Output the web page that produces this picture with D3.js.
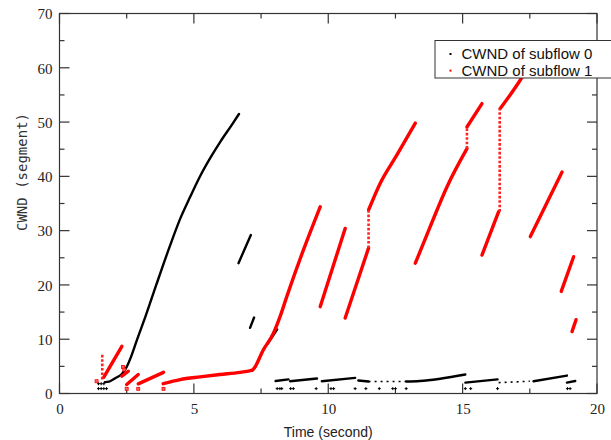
<!DOCTYPE html>
<html><head><meta charset="utf-8">
<script src="https://cdn.jsdelivr.net/npm/d3@7"></script>
<style>body{margin:0;background:#fff}svg{display:block}</style>
</head><body><svg id="c" width="611" height="440"></svg>
<script>
// ---------- data ----------
const xTicks = [0, 5, 10, 15, 20];
const yTicks = [0, 10, 20, 30, 40, 50, 60, 70];
const seriesNames = ["CWND of subflow 0", "CWND of subflow 1"];

// subflow 0 (black): continuous runs [time, cwnd]
const sub0Runs = [
  [[1.69,2.1],[1.85,2.2],[2.07,2.8],[2.32,3.6],[2.50,4.9],[2.65,6.6],[2.87,9.7],[3.2,14.2],[3.6,20.0],[4.11,27.2],[4.5,32.3],[4.86,36.2],[5.25,40.2],[5.60,43.3],[6.0,46.5],[6.4,49.4],[6.68,51.5]],
  [[6.66,24.0],[7.12,29.2]],
  [[7.09,12.1],[7.24,14.0]],
  [[7.17,4.2],[7.28,4.9]],
  [[7.75,9.2],[8.10,11.8]],
  [[8.04,2.3],[8.52,2.6]],
  [[8.58,2.26],[9.58,2.76]],
  [[9.76,2.26],[11.0,2.88]],
  [[11.12,2.4],[11.5,2.2]],
  [[12.9,2.2],[13.4,2.3],[15.1,3.5]],
  [[15.1,2.0],[16.3,2.6]],
  [[17.64,2.26],[18.88,3.3]],
  [[18.88,2.0],[19.19,2.3]]
];
// subflow 0: sparse runs
const sub0Sparse = [
  [[11.5,2.2],[12.9,2.2]],
  [[16.34,2.0],[17.5,2.26]]
];
// subflow 0: isolated samples
const sub0Dots = [
  [1.45,0.9],[1.55,0.9],[1.65,0.9],[1.75,0.9],[1.45,1.8],[1.55,1.8],[1.65,1.8],
  [8.1,0.9],[8.2,0.9],[8.27,0.9],[8.6,0.9],[8.7,0.9],[9.55,0.9],[10.1,0.9],[10.2,0.9],
  [11.0,0.9],[11.4,0.9],[11.9,0.9],[12.4,0.9],[12.5,0.9],[12.9,0.9],
  [15.1,0.9],[15.3,0.9],[16.3,0.9],[18.9,0.9],[19.0,0.9]
];

// subflow 1 (red): continuous runs
const sub1Runs = [
  [[1.65,3.0],[2.32,8.7]],
  [[2.32,3.2],[2.56,4.1]],
  [[2.5,1.65],[2.93,3.5]],
  [[2.93,1.78],[3.87,3.9]],
  [[3.86,1.8],[4.49,2.57],[5.23,3.07],[5.97,3.5],[6.72,3.9],[7.17,4.3],[7.59,8.1],[7.96,11.1],[8.21,14.2],[8.46,17.9],[9.08,26.5],[9.70,34.4]],
  [[9.70,16.0],[10.63,30.4]],
  [[10.63,13.9],[11.50,26.8]],
  [[11.50,33.8],[11.93,38.7],[12.55,43.9],[13.24,49.8]],
  [[13.24,24.0],[13.79,30.7],[14.42,38.1],[15.16,45.1]],
  [[15.16,49.1],[15.72,53.4]],
  [[15.72,25.5],[16.34,33.5]],
  [[16.40,52.5],[17.14,57.7],[17.6,61.5]],
  [[17.52,28.9],[18.70,40.8]],
  [[18.67,18.8],[19.13,25.2]],
  [[19.07,11.4],[19.22,13.6]]
];
// subflow 1: vertical jumps drawn as sparse samples
const sub1Jumps = [
  [[11.50,26.8],[11.50,33.8]],
  [[15.16,45.1],[15.16,49.1]],
  [[16.38,33.5],[16.38,52.5]],
  [[1.59,2.6],[1.59,7.4]]
];
// subflow 1: isolated samples
const sub1Dots = [
  [1.38,2.26],[2.36,4.9],[2.41,4.4],[2.5,0.86],[2.93,0.86],[3.87,0.86]
];

// ---------- drawing ----------
const svg = d3.select("#c");
const L = 59.5, R = 597, T = 13.5, B = 393.5;
const x = d3.scaleLinear().domain([0, 20]).range([L, R]);
const y = d3.scaleLinear().domain([0, 70]).range([B, T]);
const line = d3.line().x(d => x(d[0])).y(d => y(d[1])).curve(d3.curveMonotoneX);
const vline = d3.line().x(d => x(d[0])).y(d => y(d[1]));
const axisCol = "#333";

// frame
svg.append("rect").attr("x", L).attr("y", T).attr("width", R - L).attr("height", B - T)
  .attr("fill", "none").attr("stroke", axisCol).attr("stroke-width", 1.2);

// ticks (inward, mirrored)
const xMinor = d3.range(0, 20.01, 2.5);
const yMinor = d3.range(0, 70.01, 5);
const tk = svg.append("g").attr("stroke", axisCol).attr("stroke-width", 1.2);
xMinor.forEach(v => {
  const len = xTicks.includes(v) ? 10 : 5;
  tk.append("line").attr("x1", x(v)).attr("x2", x(v)).attr("y1", B).attr("y2", B - len);
  tk.append("line").attr("x1", x(v)).attr("x2", x(v)).attr("y1", T).attr("y2", T + len);
});
yMinor.forEach(v => {
  const len = yTicks.includes(v) ? 10 : 5;
  tk.append("line").attr("y1", y(v)).attr("y2", y(v)).attr("x1", L).attr("x2", L + len);
  tk.append("line").attr("y1", y(v)).attr("y2", y(v)).attr("x1", R).attr("x2", R - len);
});

// tick labels via d3 axes (lines hidden)
const xa = svg.append("g").attr("transform", `translate(0,${B})`)
  .call(d3.axisBottom(x).tickValues(xTicks).tickSize(0).tickPadding(8));
const ya = svg.append("g").attr("transform", `translate(${L},0)`)
  .call(d3.axisLeft(y).tickValues(yTicks).tickSize(0).tickPadding(7));
[xa, ya].forEach(a => {
  a.select(".domain").remove();
  a.selectAll("text").attr("font-family", "'Liberation Serif', 'Times New Roman', serif")
    .attr("font-size", 15).attr("fill", "#222");
});
ya.selectAll("text").attr("dy", "0.35em");
xa.selectAll("text").attr("dy", "0.8em");

// axis titles
svg.append("text").attr("x", (L + R) / 2).attr("y", 437).attr("text-anchor", "middle")
  .attr("font-family", "'Liberation Sans', Arial, sans-serif").attr("font-size", 14)
  .attr("fill", "#222").text("Time (second)");
svg.append("text").attr("transform", "translate(27,172) rotate(-90)").attr("text-anchor", "middle")
  .attr("font-family", "'DejaVu Sans Mono', monospace").attr("font-size", 14)
  .attr("fill", "#333").text("CWND (segment)");

const plot = svg.append("g");
// subflow 0
plot.selectAll(".s0").data(sub0Runs).join("path").attr("d", line)
  .attr("fill", "none").attr("stroke", "#000").attr("stroke-width", 2.4).attr("stroke-linecap", "round");
plot.selectAll(".s0s").data(sub0Sparse).join("path").attr("d", vline)
  .attr("fill", "none").attr("stroke", "#000").attr("stroke-width", 1.6).attr("stroke-dasharray", "2,4");
plot.selectAll(".s0d").data(sub0Dots).join("path")
  .attr("d", d => `M${x(d[0]) - 1.5},${y(d[1])}h3M${x(d[0])},${y(d[1]) - 1.5}v3`)
  .attr("stroke", "#000").attr("stroke-width", 1);
// subflow 1
plot.selectAll(".s1").data(sub1Runs).join("path").attr("d", line)
  .attr("fill", "none").attr("stroke", "#f00").attr("stroke-width", 3.4).attr("stroke-linecap", "round");
plot.selectAll(".s1j").data(sub1Jumps).join("path").attr("d", vline)
  .attr("fill", "none").attr("stroke", "#f22").attr("stroke-width", 2.6).attr("stroke-dasharray", "2.6,1.8");
plot.selectAll(".s1d").data(sub1Dots).join("rect")
  .attr("x", d => x(d[0]) - 1.5).attr("y", d => y(d[1]) - 1.5).attr("width", 3).attr("height", 3)
  .attr("fill", "#f66").attr("stroke", "#f00").attr("stroke-width", 0.8);

// legend
const lg = svg.append("g");
lg.append("rect").attr("x", 435).attr("y", 40.5).attr("width", 180).attr("height", 37.5)
  .attr("fill", "#fff").attr("stroke", "#333").attr("stroke-width", 1);
const legCol = ["#000", "#f00"];
seriesNames.forEach((n, i) => {
  const yy = 54 + i * 16.6;
  lg.append("rect").attr("x", 449.5).attr("y", yy - 1).attr("width", 2).attr("height", 2).attr("fill", legCol[i]);
  lg.append("text").attr("x", 461.5).attr("y", yy + 5).attr("font-family", "'Liberation Sans', Arial, sans-serif")
    .attr("font-size", 15).attr("fill", "#111").text(n);
});
</script></body></html>
